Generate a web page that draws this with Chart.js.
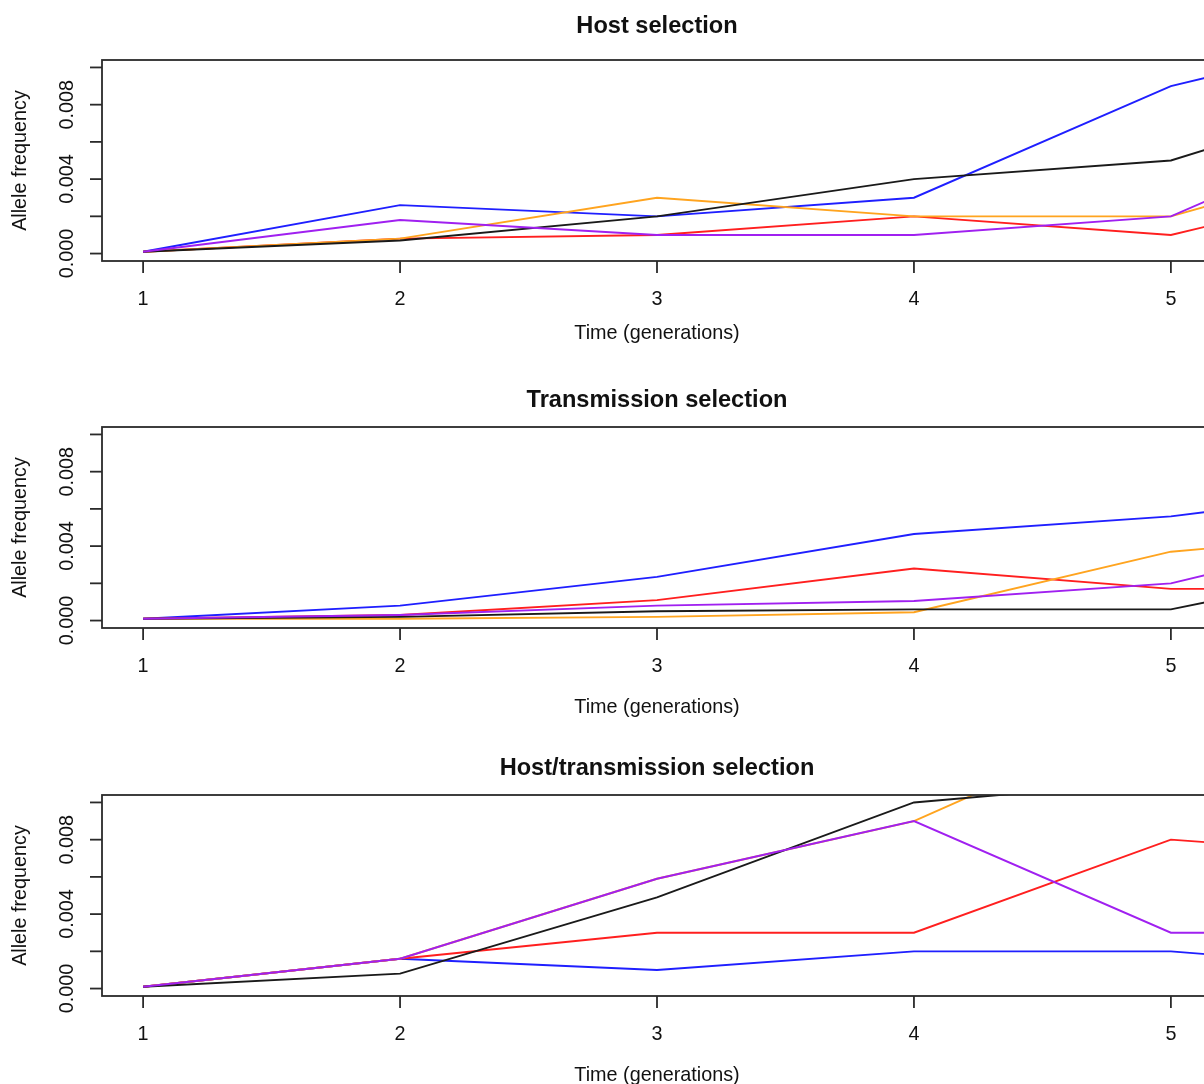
<!DOCTYPE html>
<html>
<head>
<meta charset="utf-8">
<script src="https://cdn.jsdelivr.net/npm/chart.js@4.4.1/dist/chart.umd.min.js"></script>
<style>
  html, body { margin: 0; padding: 0; background: #fff; overflow: hidden; }
  #wrap { position: relative; width: 1204px; height: 1084px; overflow: hidden; }
  .panel { position: absolute; left: 0; }
</style>
</head>
<body>
<div id="wrap">
  <canvas id="c1" class="panel" style="top:0px"></canvas>
  <canvas id="c2" class="panel" style="top:367px"></canvas>
  <canvas id="c3" class="panel" style="top:735px"></canvas>
</div>
<script>
// ---------- data ----------
const generations = [1, 2, 3, 4, 5, 6];
const xTickValues = [1, 2, 3, 4, 5];
const yTickValues = [0, 0.002, 0.004, 0.006, 0.008, 0.010];
const yTickLabels = ['0.000', '', '0.004', '', '0.008', ''];
const panelTitles = ['Host selection', 'Transmission selection', 'Host/transmission selection'];
const xAxisTitle = 'Time (generations)';
const yAxisTitle = 'Allele frequency';

// Host selection
const hostBlue   = [0.0001, 0.0026, 0.0020, 0.0030, 0.0090, 0.0123];
const hostRed    = [0.0001, 0.0008, 0.0010, 0.0020, 0.0010, 0.0043];
const hostOrange = [0.0001, 0.0008, 0.0030, 0.0020, 0.0020, 0.0059];
const hostBlack  = [0.0001, 0.0007, 0.0020, 0.0040, 0.0050, 0.0093];
const hostPurple = [0.0001, 0.0018, 0.0010, 0.0010, 0.0020, 0.0080];

// Transmission selection
const transBlue   = [0.0001, 0.0008, 0.00235, 0.00465, 0.0056, 0.0073];
const transRed    = [0.0001, 0.0003, 0.0011, 0.0028, 0.0017, 0.0017];
const transOrange = [0.0001, 0.0001, 0.0002, 0.00045, 0.0037, 0.0049];
const transBlack  = [0.0001, 0.0002, 0.0005, 0.0006, 0.0006, 0.0034];
const transPurple = [0.0001, 0.0003, 0.0008, 0.00105, 0.0020, 0.0053];

// Host/transmission selection
const bothBlue   = [0.0001, 0.0016, 0.0010, 0.0020, 0.0020, 0.0009];
const bothRed    = [0.0001, 0.0016, 0.0030, 0.0030, 0.0080, 0.0070];
const bothOrange = [0.0001, 0.0016, 0.0059, 0.0090, 0.0151, 0.0160];
const bothBlack  = [0.0001, 0.0008, 0.0049, 0.0100, 0.0112, 0.0120];
const bothPurple = [0.0001, 0.0016, 0.0059, 0.0090, 0.0030, 0.0030];

const seriesColors = { blue: '#1f1fff', red: '#ff1f1f', orange: '#ffa41f', black: '#1a1a1a', purple: '#a020f0' };

const panels = [
  { id: 'c1', title: panelTitles[0], titleY: 33, xTitleOff: 78, series: [['blue', hostBlue], ['red', hostRed], ['orange', hostOrange], ['black', hostBlack], ['purple', hostPurple]] },
  { id: 'c2', title: panelTitles[1], titleY: 40, xTitleOff: 85, series: [['blue', transBlue], ['red', transRed], ['orange', transOrange], ['black', transBlack], ['purple', transPurple]] },
  { id: 'c3', title: panelTitles[2], titleY: 40, xTitleOff: 85, series: [['blue', bothBlue], ['red', bothRed], ['orange', bothOrange], ['black', bothBlack], ['purple', bothPurple]] },
];

// ---------- layout ----------
const W = 1240, H = 368;
const PLOT_LEFT = 102, PLOT_RIGHT = 1212, PLOT_TOP = 60, PLOT_BOTTOM = 261;
const FONT = "'Liberation Sans', Arial, Helvetica, sans-serif";
const AXIS_COLOR = '#2a2a2a';

const rAxesPlugin = {
  id: 'rAxes',
  afterDatasetsDraw(chart) {
    const { ctx, chartArea: a, scales } = chart;
    const opts = chart.options.plugins.rTitle;
    const xs = scales.x, ys = scales.y;
    ctx.save();
    ctx.strokeStyle = AXIS_COLOR;
    ctx.fillStyle = '#111';
    ctx.lineWidth = 1.8;
    // box
    ctx.strokeRect(a.left, a.top, a.right - a.left, a.bottom - a.top);
    // x ticks
    ctx.font = '19.8px ' + FONT;
    ctx.textAlign = 'center';
    ctx.textBaseline = 'alphabetic';
    xTickValues.forEach(v => {
      const px = xs.getPixelForValue(v);
      ctx.beginPath();
      ctx.moveTo(px, a.bottom);
      ctx.lineTo(px, a.bottom + 12);
      ctx.stroke();
      ctx.fillText(String(v), px, a.bottom + 44);
    });
    // y ticks
    yTickValues.forEach((v, i) => {
      const py = ys.getPixelForValue(v);
      ctx.beginPath();
      ctx.moveTo(a.left - 12, py);
      ctx.lineTo(a.left, py);
      ctx.stroke();
      const lab = yTickLabels[i];
      if (lab) {
        ctx.save();
        ctx.translate(a.left - 29, py);
        ctx.rotate(-Math.PI / 2);
        ctx.fillText(lab, 0, 0);
        ctx.restore();
      }
    });
    // x title
    const cx = (a.left + a.right) / 2;
    ctx.fillText(xAxisTitle, cx, a.bottom + opts.xTitleOff);
    // y title
    ctx.save();
    ctx.translate(26, (a.top + a.bottom) / 2);
    ctx.rotate(-Math.PI / 2);
    ctx.fillText(yAxisTitle, 0, 0);
    ctx.restore();
    // main title
    ctx.font = 'bold 23.6px ' + FONT;
    ctx.fillText(opts.text, cx, opts.titleY);
    ctx.restore();
  }
};

panels.forEach(p => {
  const canvas = document.getElementById(p.id);
  canvas.width = W; canvas.height = H;
  canvas.style.width = W + 'px'; canvas.style.height = H + 'px';
  const datasets = p.series.map(([name, vals], idx) => ({
    label: name,
    data: generations.map((g, i) => ({ x: g, y: vals[i] })),
    borderColor: seriesColors[name],
    backgroundColor: seriesColors[name],
    borderWidth: 1.9,
    pointRadius: 0,
    pointHoverRadius: 0,
    tension: 0,
    fill: false,
    clip: 0,
    order: p.series.length - idx
  }));
  new Chart(canvas, {
    type: 'line',
    data: { datasets },
    options: {
      responsive: false,
      animation: false,
      devicePixelRatio: 1,
      layout: { padding: { left: PLOT_LEFT, right: W - PLOT_RIGHT, top: PLOT_TOP, bottom: H - PLOT_BOTTOM } },
      plugins: { legend: { display: false }, tooltip: { enabled: false }, title: { display: false },
                 rTitle: { text: p.title, titleY: p.titleY, xTitleOff: p.xTitleOff } },
      events: [],
      scales: {
        x: { type: 'linear', min: 0.84, max: 5.16, display: false },
        y: { type: 'linear', min: -0.0004, max: 0.0104, display: false }
      }
    },
    plugins: [rAxesPlugin]
  });
});
</script>
</body>
</html>
